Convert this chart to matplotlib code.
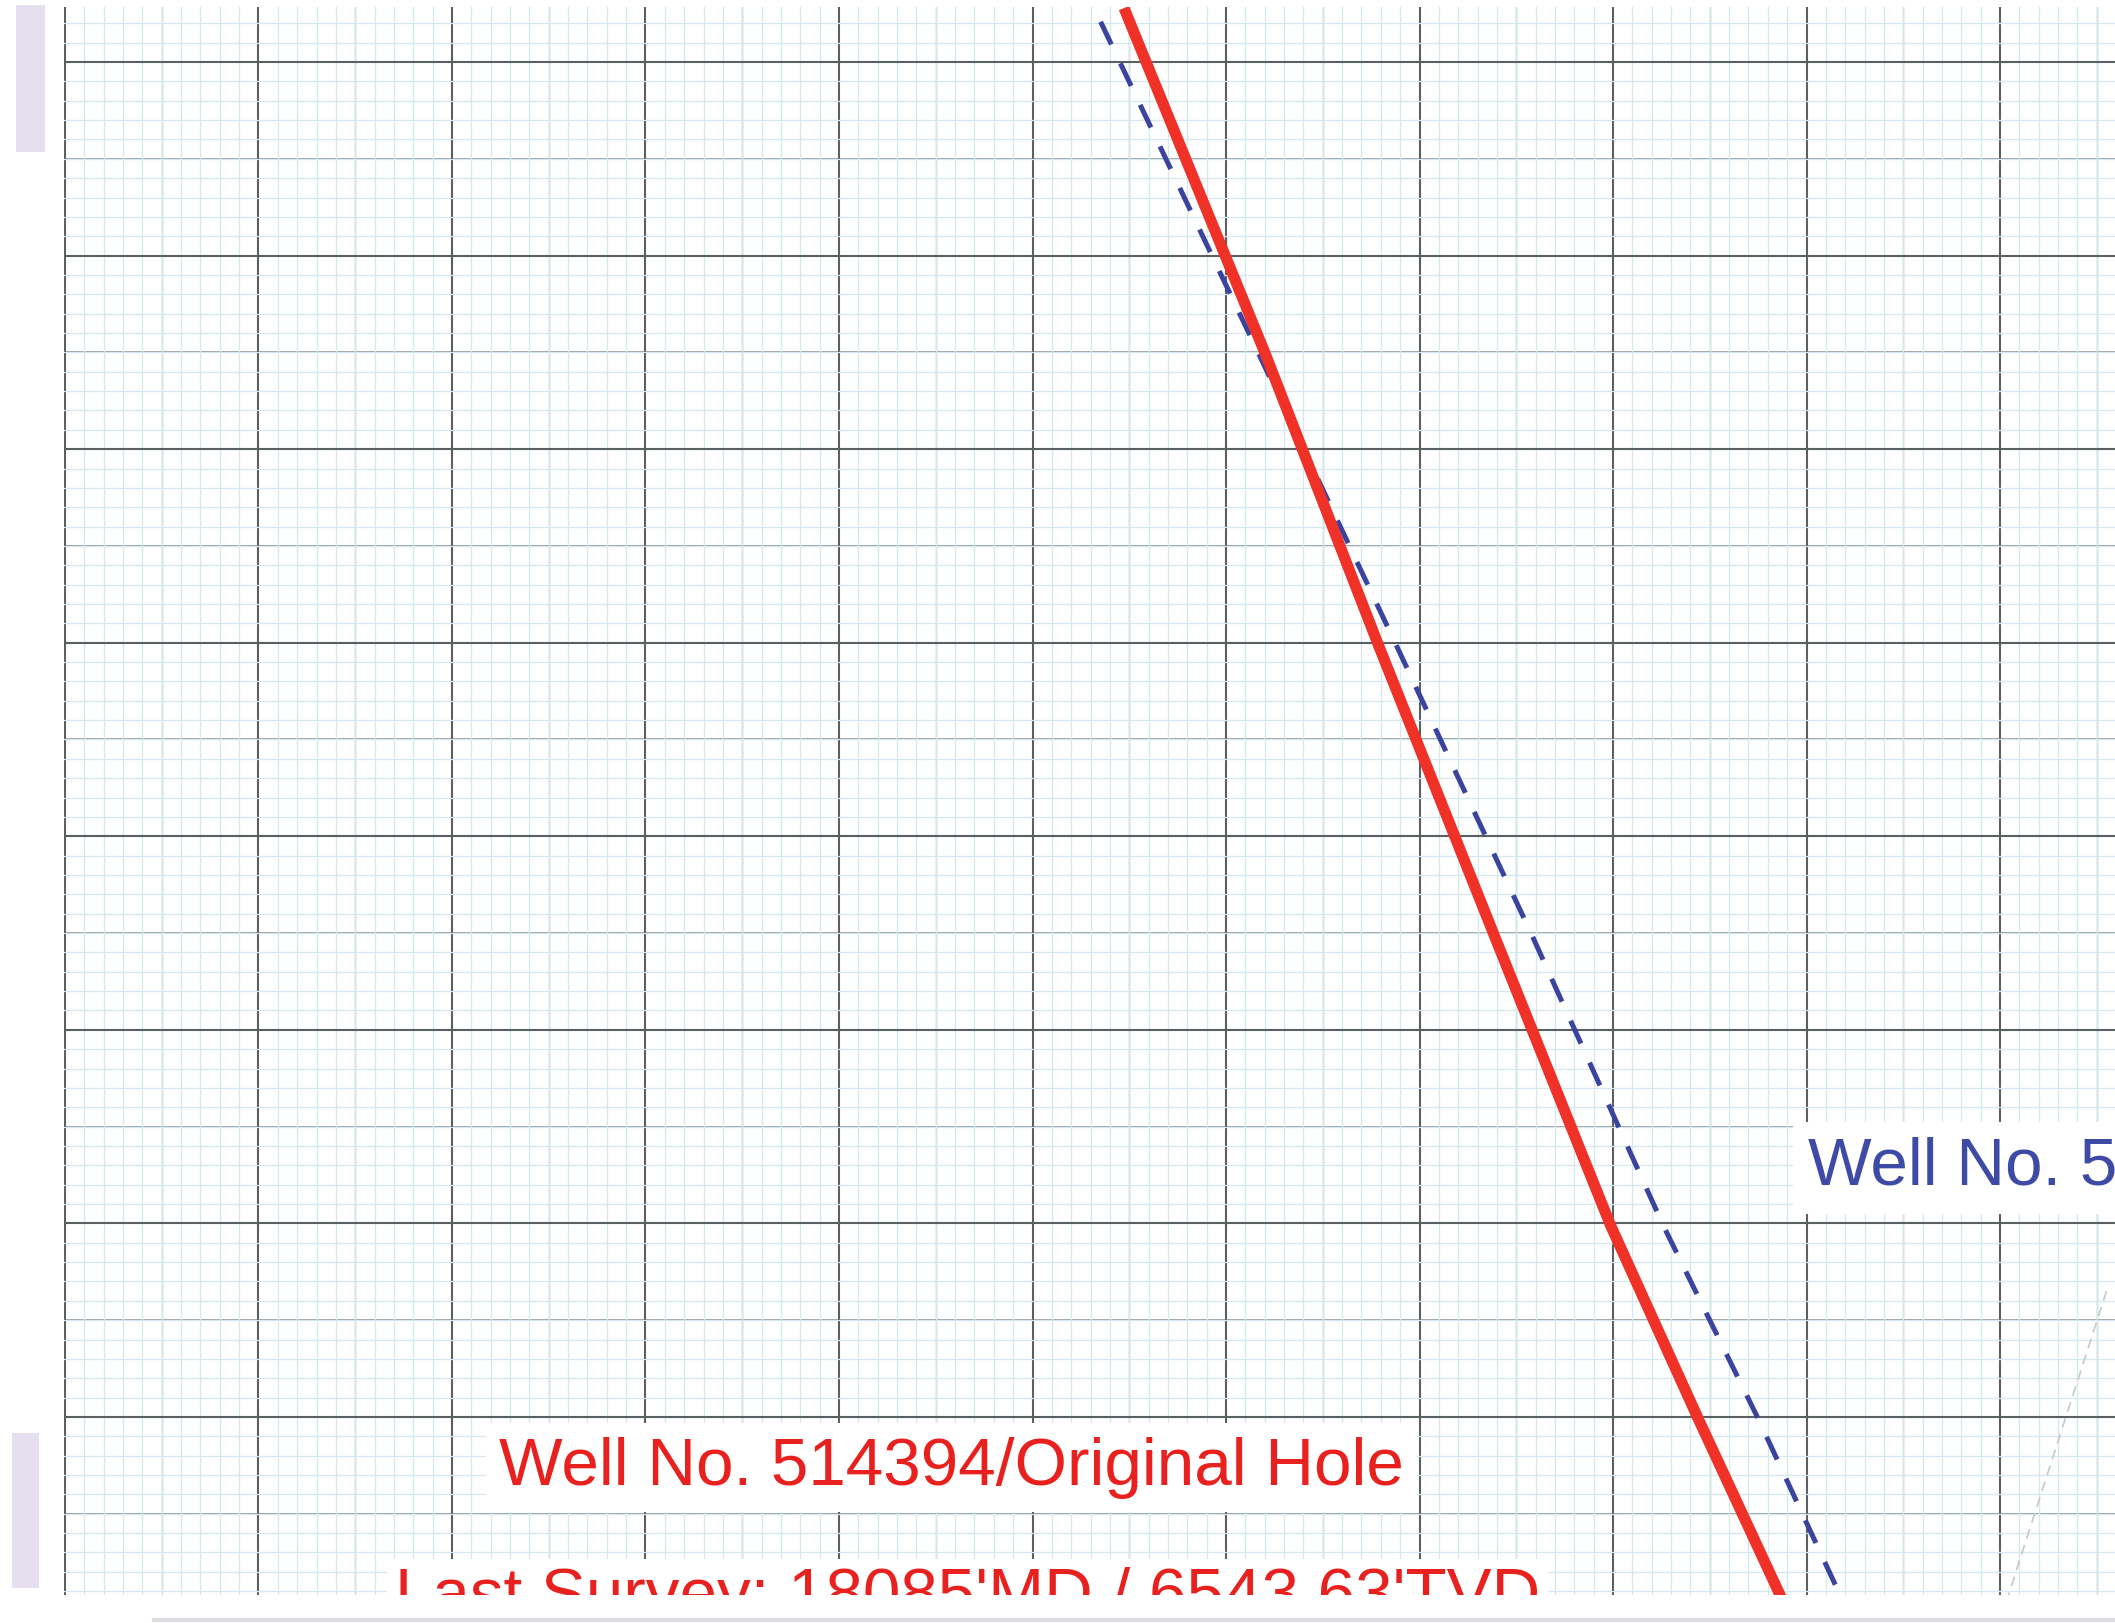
import numpy as np
import matplotlib
matplotlib.use("Agg")
import matplotlib.pyplot as plt
from matplotlib.ticker import MultipleLocator

# values: vertical section (x) vs TVD (y), 100 units per major square
red_tvd = [72.1, 250.5, 401.1, 558.7, 701.2, 801.1, 895.0]
red_vs = [547.3, 620.2, 678.7, 741.6, 798.8, 844.1, 887.7]

blue_tvd = [79.2, 250.5, 401.1, 550.9, 701.2, 801.1, 895.0]
blue_vs = [535.2, 616.8, 687.9, 758.0, 826.0, 875.1, 918.7]

# faint offset well in the lower right corner
grey_tvd = [735.0, 893.0]
grey_vs = [1055.0, 1004.0]

label_red = "Well No. 514394/Original Hole"
label_survey = "Last Survey: 18085'MD / 6543.63'TVD"
label_blue = "Well No. 514394"

RED = "#ef3127"
BLUE = "#3a449e"

plt.rcParams['font.family'] = ['Liberation Sans', 'DejaVu Sans']

fig = plt.figure(figsize=(21.15, 16.23), dpi=100)
fig.patch.set_facecolor("white")

# scan artefacts on the left margin and bottom edge
fig.patches.append(plt.Rectangle((0.0074, 0.9063), 0.0137, 0.0906, transform=fig.transFigure,
                                 facecolor="#e6dff0", edgecolor="none"))
fig.patches.append(plt.Rectangle((0.0057, 0.0216), 0.0128, 0.0955, transform=fig.transFigure,
                                 facecolor="#e6dff0", edgecolor="none"))
fig.lines.append(plt.Line2D([0.073, 1.0], [0.002, 0.002], transform=fig.transFigure,
                            color="#dcdce0", lw=3))

ax = fig.add_axes([0.03007, 0.01725, 1 - 0.03007, 0.97862])
ax.set_xlim(-0.7, 1059.4)
ax.set_ylim(892.0, 71.4)

# graph paper: fine blue, mid grey, major dark
ax.xaxis.set_major_locator(MultipleLocator(100))
ax.yaxis.set_major_locator(MultipleLocator(100))
ax.xaxis.set_minor_locator(MultipleLocator(10))
ax.yaxis.set_minor_locator(MultipleLocator(10))
ax.grid(which="minor", color="#d5e8ef", lw=0.9, zorder=0)
ax.grid(which="major", color="#5a6061", lw=1.5, zorder=0.8)
ax.set_axisbelow(True)
for v in np.arange(50, 1060, 100):
    ax.axvline(v, color="#a9afaf", lw=1.0, zorder=0.5)
for h in np.arange(150, 900, 100):
    ax.axhline(h, color="#8c9292", lw=1.2, zorder=0.5)
ax.tick_params(which="both", length=0, labelbottom=False, labelleft=False)
for s in ax.spines.values():
    s.set_visible(False)

ax.plot(grey_vs, grey_tvd, color="#c8c8c8", lw=1.2, ls=(0, (6, 4)), zorder=2)
ax.plot(blue_vs, blue_tvd, color=BLUE, lw=3.6, ls=(0, (5.0, 4.2)), zorder=4)
ax.plot(red_vs, red_tvd, color=RED, lw=8, solid_capstyle="butt", zorder=5)

ax.text(224.3, 835.0, label_red, color="#e8201e", fontsize=48.5, va="baseline", ha="left",
        bbox=dict(boxstyle="square,pad=0.2", fc="white", ec="none"), zorder=3, clip_on=True)
ax.text(170.5, 902.2, label_survey, color="#e8201e", fontsize=48.5, va="baseline", ha="left",
        bbox=dict(boxstyle="square,pad=0.12", fc="white", ec="none"), zorder=3, clip_on=True)
ax.text(900.9, 680.1, label_blue, color="#3d4aa6", fontsize=48.5, va="baseline", ha="left",
        bbox=dict(boxstyle="square,pad=0.22", fc="white", ec="none"), zorder=3, clip_on=True)

fig.savefig("out.png", dpi=100)
